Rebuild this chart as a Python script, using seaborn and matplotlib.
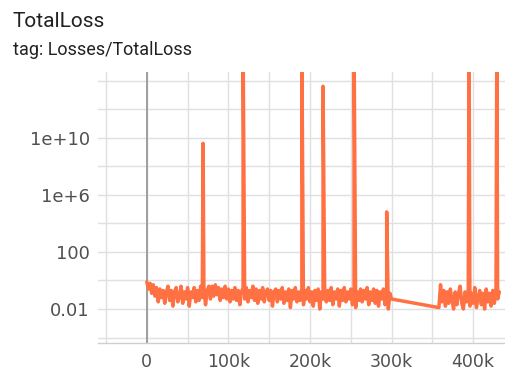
import numpy as np
import pandas as pd
import matplotlib.pyplot as plt
import seaborn as sns

# logging interval of the run and the two logged segments (steps)
log_every = 2000
seg1_start, seg1_end = 0, 300000
seg2_start, seg2_end = 358000, 432000

# log10(TotalLoss), segment 1 (0 .. 300k)
seg1_log_loss = [
    -0.1, -0.6, -0.2, -0.9, -0.3, -1.1, -0.5, -1.5, -0.6, -1.2,
    -0.7, -1.6, -0.8, -0.4, -1.4, -0.7, -1.8, -0.8, -0.5, -1.5,
    -1.1, -0.4, -1.6, -0.8, -1.3, -0.5, -1.8, -0.8, -1.2, -0.5,
    -1.5, -0.7, -1.4, -0.4, -1.2, -0.6, -1.7, -0.7, -0.4, -1.3,
    -0.4, -1.1, -0.3, -1.0, -0.5, -1.4, -0.6, -1.2, -0.4, -1.3,
    -0.6, -1.5, -0.7, -1.3, -0.5, -1.4, -0.7, -1.7, -0.8, -0.5,
    -1.3, -0.5, -1.5, -0.7, -1.2, -0.4, -1.4, -0.6, -1.6, -0.7,
    -1.3, -0.5, -1.5, -0.8, -0.6, -1.4, -0.7, -1.8, -0.8, -0.6,
    -1.5, -0.7, -1.3, -0.5, -1.6, -0.8, -1.4, -0.6, -1.9, -0.7,
    -1.3, -0.5, -1.5, -0.8, -1.4, -0.6, -1.7, -0.7, -1.3, -0.5,
    -1.5, -0.8, -1.8, -0.7, -1.4, -0.6, -2.0, -0.8, -1.3, -0.6,
    -1.5, -0.7, -1.4, -0.5, -1.7, -0.8, -1.3, -0.6, -1.8, -0.7,
    -1.4, -0.5, -1.5, -0.8, -1.3, -0.6, -1.7, -0.7, -1.9, -0.8,
    -1.4, -0.6, -1.5, -0.7, -1.3, -0.5, -1.7, -0.8, -1.4, -0.6,
    -1.6, -0.7, -1.8, -0.8, -1.3, -0.6, -1.7, -0.7, -2.0, -0.9,
    -1.3,
]

# segment 2 (358k .. 432k)
seg2_log_loss = [
    -1.9, -0.3, -1.5, -0.7, -1.8, -0.8, -1.6, -0.6, -1.4, -2.0,
    -0.8, -1.7, -0.9, -0.4, -1.6, -2.0, -0.8, -1.5, -0.6, -1.8,
    -0.9, -1.6, -0.5, -1.9, -1.2, -0.7, -1.7, -0.9, -2.0, -0.6,
    -1.5, -0.9, -1.8, -0.7, -1.6, -0.5, -1.3, -0.8,
]

# loss spikes (clipped ones go past the top of the chart)
spike_steps = [69000, 118000, 190000, 216000, 254000, 294000, 395000, 429000]
spike_log_loss = [9.6, 17.0, 17.0, 13.6, 17.0, 4.8, 17.0, 17.0]

y_gridlines = [1e-4, 1e-2, 1, 1e2, 1e4, 1e6, 1e8, 1e10, 1e12, 1e14]
y_labels = ["", "0.01", "", "100", "", "1e+6", "", "1e+10", "", ""]
x_gridlines = [-50000, 0, 50000, 100000, 150000, 200000, 250000, 300000, 350000, 400000]
x_labels = ["", "0", "", "100k", "", "200k", "", "300k", "", "400k"]

steps = np.concatenate([
    np.arange(seg1_start, seg1_end + 1, log_every),
    np.arange(seg2_start, seg2_end + 1, log_every),
    spike_steps,
])
log_loss = np.concatenate([seg1_log_loss, seg2_log_loss, spike_log_loss])
df = pd.DataFrame({"step": steps, "loss": 10.0 ** log_loss}).sort_values("step")

sns.set_theme(style="whitegrid")
plt.rcParams["font.family"] = ["DejaVu Sans"]

fig = plt.figure(figsize=(5.06, 3.74), dpi=100)
ax = fig.add_axes([98 / 506, 31 / 374, 407 / 506, 271 / 374])

sns.lineplot(data=df, x="step", y="loss", ax=ax, color="#ff7043",
             linewidth=2.5, estimator=None, sort=True)

ax.set_yscale("log")
ax.set_ylim(10 ** -4.38, 10 ** 14.6)
ax.set_xlim(-59800, 439000)

ax.set_yticks(y_gridlines)
ax.set_yticklabels(y_labels)
ax.set_xticks(x_gridlines)
ax.set_xticklabels(x_labels)
ax.minorticks_off()

ax.grid(True, color="#e0e0e0", linewidth=1.0)
ax.axvline(0, color="#9e9e9e", linewidth=1.4, zorder=1)

for side in ["top", "right", "left"]:
    ax.spines[side].set_visible(False)
ax.spines["bottom"].set_color("#cfcfcf")
ax.spines["bottom"].set_linewidth(1.0)

ax.tick_params(axis="y", length=0, pad=6, labelsize=13, labelcolor="#505050")
ax.tick_params(axis="x", length=6, width=1.0, color="#e0e0e0", pad=1.5,
               labelsize=12.5, labelcolor="#505050", direction="out")
ax.set_xlabel("")
ax.set_ylabel("")

fig.text(13 / 506, 1 - 27 / 374, "TotalLoss", fontsize=15, color="#212121",
         va="baseline", ha="left", family="Roboto")
fig.text(13 / 506, 1 - 55 / 374, "tag: Losses/TotalLoss", fontsize=13,
         color="#212121", va="baseline", ha="left", family="Roboto")

fig.savefig("out.png", dpi=100, facecolor="white")
